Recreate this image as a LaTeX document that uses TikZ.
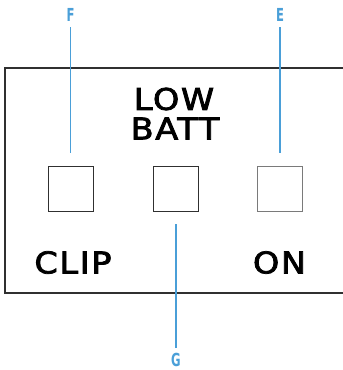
\documentclass[tikz,border=0pt]{standalone}
\usepackage{fontspec}
\setmainfont{DejaVu Sans}
\newfontfamily\panelfont[LetterSpace=5, FakeBold=2.5]{DejaVu Sans}
\newfontfamily\calloutfont{DejaVu Sans Condensed}
\definecolor{panelline}{HTML}{303030}
\definecolor{ledgray}{HTML}{7A7A7A}
\definecolor{callout}{HTML}{4A9FD8}
\newcommand{\paneltext}[1]{\scalebox{1.12}[1]{#1}}
\newcommand{\callouttext}[1]{\scalebox{0.72}[1]{#1}}
\tikzset{
  panellabel/.style={inner sep=0pt, font=\panelfont\fontsize{30}{30}\selectfont, text=black},
  led/.style={draw=panelline, line width=1.3bp, minimum size=45bp, inner sep=0pt},
  calloutlabel/.style={inner sep=0pt, text=callout, font=\calloutfont\bfseries\fontsize{18}{18}\selectfont},
  leader/.style={draw=callout, line width=1.2bp},
}
\begin{document}
\begin{tikzpicture}[x=1bp, y=-1bp]
\useasboundingbox (0,0) rectangle (343,370);
% front panel outline, open to the right
\draw[panelline, line width=1.6bp] (343,68) -- (5,68) -- (5,293) -- (343,293);
% panel printing
\node[panellabel] (low) at (174,99) {\paneltext{LOW}};
\node[panellabel] (batt) at (175,128.5) {\paneltext{BATT}};
\node[panellabel] (clip) at (73,262.5) {\paneltext{CLIP}};
\node[panellabel] (on) at (279.5,262.5) {\paneltext{ON}};
% indicator windows
\node[led] (ledF) at (71,189) {};
\node[led] (ledG) at (176,189) {};
\node[led, draw=ledgray] (ledE) at (280,189) {};
% callouts
\node[calloutlabel] (labF) at (70.5,14.5) {\callouttext{F}};
\node[calloutlabel] (labE) at (280,14.5) {\callouttext{E}};
\node[calloutlabel] (labG) at (176,360) {\callouttext{G}};
\coordinate (endF) at (70.5,153);
\coordinate (endE) at (280,153);
\coordinate (endG) at (176,224);
\draw[leader] (labF.south) ++(0,6) -- (endF);
\draw[leader] (labE.south) ++(0,6) -- (endE);
\draw[leader] (labG.north) ++(0,-5) -- (endG);
\end{tikzpicture}
\end{document}
